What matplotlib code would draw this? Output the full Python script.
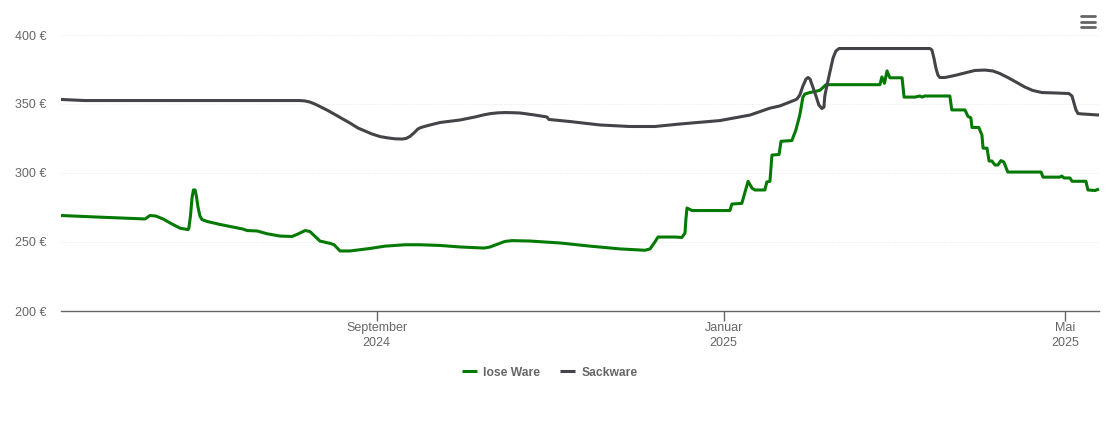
import matplotlib
matplotlib.use("Agg")
import matplotlib.pyplot as plt
from matplotlib.lines import Line2D

plt.rcParams['font.family'] = ['Liberation Sans', 'DejaVu Sans']

# days since 13 May 2024
lose_days = [0,13.7,29.6,31.3,33.4,35.9,39.1,41.9,44.7,45.0,45.6,46.1,46.6,47.2,47.7,48.2,48.9,49.6,51.4,56.0,64.0,65.5,69.0,72.5,77.1,81.3,83.4,85.9,87.6,91.1,94.7,96.1,98.2,101.7,108.7,114.0,121.1,126.3,133.4,140.4,148.9,151.0,156.2,158.7,165.0,175.6,186.2,196.7,205.5,207.3,209.0,210.1,216.1,218.5,219.6,219.9,220.3,222.1,235.4,236.1,239.6,240.7,241.8,243.2,244.2,247.7,248.4,249.5,250.2,252.7,253.4,257.2,258.6,260.0,261.1,261.8,263.5,265.3,267.1,268.2,269.2,288.2,288.9,289.8,290.7,291.7,296.0,296.7,300.5,302.3,303.0,304.0,312.8,313.5,318.1,319.2,320.2,320.6,323.0,324.1,324.5,325.9,326.6,327.6,328.7,329.7,330.8,331.8,333.2,344.9,345.6,351.5,352.2,353.0,355.1,355.8,360.7,361.4,363.9,365.3]
lose_values = [269.2,268,266.7,269.2,268.8,266.7,263,260,259,260,269.6,281.9,287.7,287.7,282.6,275.4,268.8,266.3,264.9,262.7,259.4,258.3,258,256,254.3,254,255.8,258.3,257.6,250.7,249,248,243.5,243.5,245.3,247,248,248,247.5,246.4,245.6,246.4,250.4,251,250.7,249.3,247,245,244,245,250,253.6,253.6,253.3,256.5,266,274.6,272.8,272.8,277.5,278,286,294,289,287.7,287.7,293.5,294,313,313.4,323,323.5,331,342,355,357.2,358.3,359,360,362,364,364,369.6,365,374,369,369,355,355,355.8,355,355.8,355.8,345.7,345.7,341,340,333,333,327.5,318,318,308.7,308.7,305.8,305.8,309,308,300.7,300.7,297,297,297.8,296.4,296.4,294,294,287.7,287.3,288.4]
sack_days = [0,8.4,20.8,84.1,85.9,87.6,89.3,91.1,93.9,96.4,99.2,101.7,104.5,107,109.4,112.3,115.1,117.5,120,121.4,122.8,124.2,125.6,126.7,129.1,133.4,140.4,145.7,148.5,151,153.8,156.2,158.7,161.5,166.8,171,171.7,179.1,189.7,200.2,209,217.8,231.9,242.5,249.5,253.0,258.3,259.0,260.0,261.1,262.2,262.9,263.6,264.6,265.7,266.7,267.8,268.5,268.8,269.6,270.6,271.7,272.7,273.8,305.8,306.5,307.2,307.9,308.6,309.3,311.1,314.6,318.1,321.6,325.2,328,330.4,333.2,336.1,339.2,342,345.2,349.8,354.7,355.8,356.5,357.2,357.9,359.3,365.3]
sack_values = [353.3,352.5,352.5,352.5,352.2,351.4,350,348.2,345.3,342.4,339.1,336.2,332.6,330.4,328.3,326.4,325.4,324.8,324.6,325,326.5,329,331.9,333,334.4,336.6,338.4,340.6,342,343,343.6,343.8,343.7,343.5,342,340.6,338.8,337.3,334.8,333.7,333.7,335.5,338,342,347,348.6,352.9,353.6,356.5,363,368.1,369.2,368.1,362.3,355.8,349.3,346.7,347.8,355.8,363.8,373.2,383.3,388.4,390.2,390.2,389.1,383.3,376.1,371,369.2,369.2,370.7,372.5,374.3,374.6,373.9,372.1,369.2,365.9,362.3,359.8,358.3,358,357.6,355.8,350.7,345.7,343.1,342.8,342]
y_ticks = [200,250,300,350,400]
y_labels = ['200 €','250 €','300 €','350 €','400 €']
x_ticks = [111.1,233.2,353.3]
x_labels = ['September\n2024','Januar\n2025','Mai\n2025']

W,H = 1110,422
fig = plt.figure(figsize=(W/100,H/100),dpi=100)
ax = fig.add_axes([61/W,1-311/H,1038/W,276/H])
ax.set_xlim(0,365.3); ax.set_ylim(200,400)
for s in ['top','left','right']: ax.spines[s].set_visible(False)
ax.spines['bottom'].set_color('#666666'); ax.spines['bottom'].set_linewidth(1.0)
ax.set_yticks(y_ticks); ax.set_yticklabels(y_labels)
ax.set_xticks(x_ticks); ax.set_xticklabels(x_labels, linespacing=1.3)
ax.tick_params(axis='y',length=0,pad=10.5,labelsize=9,labelcolor='#666666')
ax.tick_params(axis='x',length=7,width=1,color='#666666',pad=1,labelsize=9,labelcolor='#666666')
ax.grid(axis='y',color='#e8e8e8',lw=0.7,ls=(0,(1,1.5)))
ax.set_axisbelow(True)
GREEN,GREY='#047a04','#434348'
l1,=ax.plot(lose_days,lose_values,color=GREEN,lw=2.2,solid_joinstyle='round',solid_capstyle='butt',label='lose Ware',clip_on=False)
l2,=ax.plot(sack_days,sack_values,color=GREY,lw=2.2,solid_joinstyle='round',solid_capstyle='butt',label='Sackware',clip_on=False)
fig.legend(handles=[l1,l2],loc='center',bbox_to_anchor=(550/W,1-372.5/H),ncol=2,frameon=False,
           handlelength=1.2,handletextpad=0.55,columnspacing=1.65,
           prop={'size':8.7,'weight':'bold'},labelcolor='#666666')
for y in [16,21.5,27]:
    fig.add_artist(Line2D([1081/W,1095/W],[1-y/H,1-y/H],color='#666666',lw=2.0,solid_capstyle='round'))
fig.savefig('out.png',dpi=100)
